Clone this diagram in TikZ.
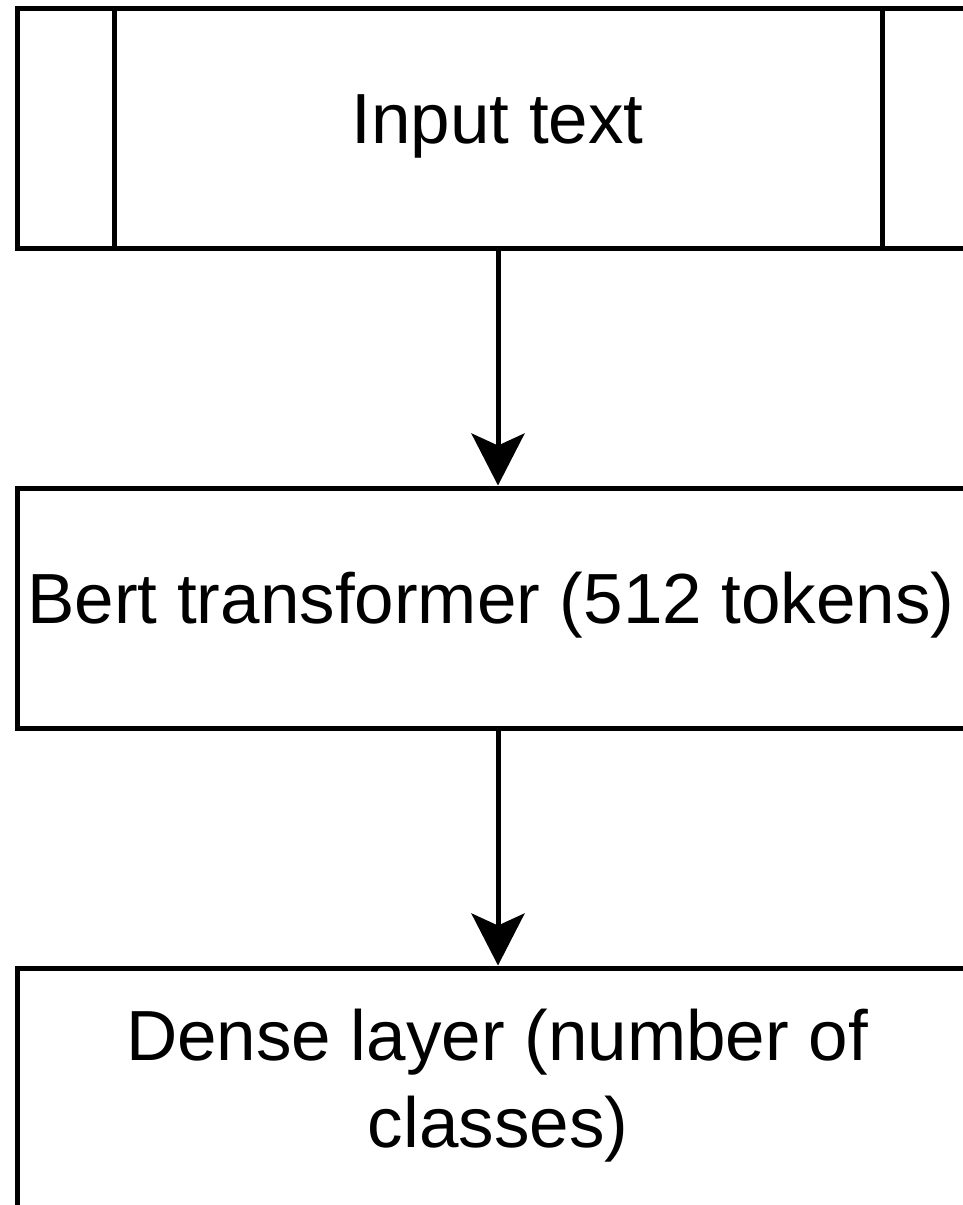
\documentclass[tikz,border=0pt]{standalone}
\usepackage{fontspec}
\setmainfont{Liberation Sans}
\usetikzlibrary{arrows.meta}
\begin{document}
\begin{tikzpicture}[x=1pt,y=-1pt,
  box/.style={draw=black, line width=5pt, fill=white, inner sep=0pt, minimum width=962pt},
  lbl/.style={inner sep=0pt, font=\fontsize{71}{87}\selectfont, align=center},
  conn/.style={line width=5pt, -{Stealth[length=52pt, width=53pt, inset=12pt]}}]
\useasboundingbox (0,0) rectangle (963,1205);
\clip (0,0) rectangle (963,1205);
\fill[white] (0,0) rectangle (963,1205);
% boxes
\node[box, minimum height=240pt] (b1) at (498,128) {};
\draw[line width=5pt] (114,8) coordinate (p1) -- (114,248) coordinate (p2);
\draw[line width=5pt] (882.5,8) coordinate (p3) -- (882.5,248) coordinate (p4);
\node[box, minimum height=240pt] (b2) at (498,608) {};
\node[box, minimum height=240pt] (b3) at (498,1088) {};
% labels
\node[lbl, anchor=base] (t1) at (497.5,143) {Input text};
\node[lbl, anchor=base] (t2) at (491,623) {Bert transformer (512 tokens)};
\node[lbl, anchor=base] (t3) at (497,1060) {Dense layer (number of};
\node[lbl, anchor=base] (t4) at (498,1147) {classes)};
% connectors
\draw[conn] (b1.south) -- (b2.north);
\draw[conn] (b2.south) -- (b3.north);
\end{tikzpicture}
\end{document}
